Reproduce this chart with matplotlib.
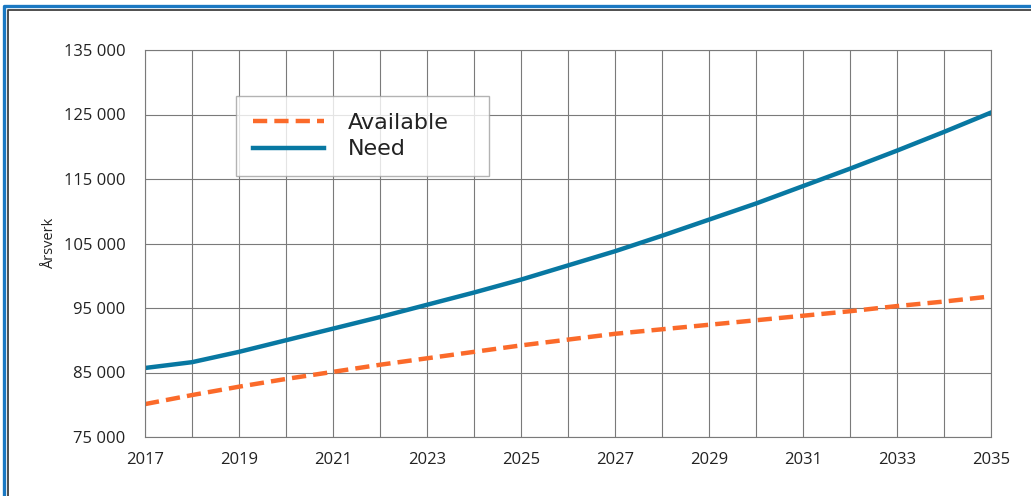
import numpy as np
import matplotlib
matplotlib.use('Agg')
import matplotlib.pyplot as plt
from matplotlib.lines import Line2D
from matplotlib.ticker import FuncFormatter

years = np.arange(2017, 2036)
need = [85700, 86600, 88200, 90000, 91800, 93600, 95500, 97400, 99400, 101600,
        103800, 106200, 108700, 111200, 113900, 116600, 119400, 122300, 125300]
available = [80100, 81500, 82800, 84000, 85100, 86200, 87200, 88200, 89200, 90100,
             91000, 91700, 92400, 93100, 93800, 94500, 95300, 96000, 96800]
xticks = list(range(2017, 2036, 2))
yticks = list(range(75000, 135001, 10000))

W, H = 1031, 496
fig = plt.figure(figsize=(W / 100, H / 100), dpi=100)
ax = fig.add_axes([145 / W, 1 - 437 / H, (991 - 145) / W, (437 - 50) / H])

# outer frame (runs off the right and bottom edge)
def px(x, y):
    return x / W, 1 - y / H

for off, col, lw in [(4, '#1a78c2', 2.4), (8, '#404040', 1.3)]:
    xs, ys = zip(px(off, H + 10), px(off, off + 2), px(W + 10, off + 2))
    fig.add_artist(Line2D(xs, ys, color=col, lw=lw, transform=fig.transFigure))

ax.plot(years, available, color='#fb6a2a', lw=3.2, dashes=(3.2, 1.6), label='Available')
ax.plot(years, need, color='#0878a2', lw=3.2, label='Need')

ax.set_xlim(2017, 2035)
ax.set_ylim(75000, 135000)
ax.set_xticks(years, minor=True)
ax.set_xticks(xticks)
ax.set_yticks(yticks)
ax.yaxis.set_major_formatter(FuncFormatter(lambda v, p: f'{int(v):,}'.replace(',', ' ')))
ax.grid(True, which='both', color='#7a7a7a', lw=0.8)
ax.tick_params(which='both', length=0, labelsize=12, colors='#222222')
ax.tick_params(axis='x', pad=11)
ax.tick_params(axis='y', pad=14)
for lab in ax.get_xticklabels() + ax.get_yticklabels():
    lab.set_family('Open Sans')
for s in ax.spines.values():
    s.set_color('#7a7a7a')
    s.set_linewidth(0.8)
ax.set_ylabel('Årsverk', fontsize=10.5, family='Open Sans', color='#222222', labelpad=5)

leg_box = ((236 - 145) / 846, (437 - 177) / 387, (489 - 236) / 846, (177 - 96) / 387)
leg = ax.legend(loc='upper left', bbox_to_anchor=leg_box, mode='expand',
                fontsize=16, frameon=True, fancybox=False, handlelength=3.2,
                borderpad=0.75, labelspacing=0.3, handletextpad=1.1, borderaxespad=0)
leg.get_frame().set_edgecolor('#a0a0a0')
leg.get_frame().set_linewidth(1.0)
for t in leg.get_texts():
    t.set_color('#222222')

fig.savefig('out.png', dpi=100)
